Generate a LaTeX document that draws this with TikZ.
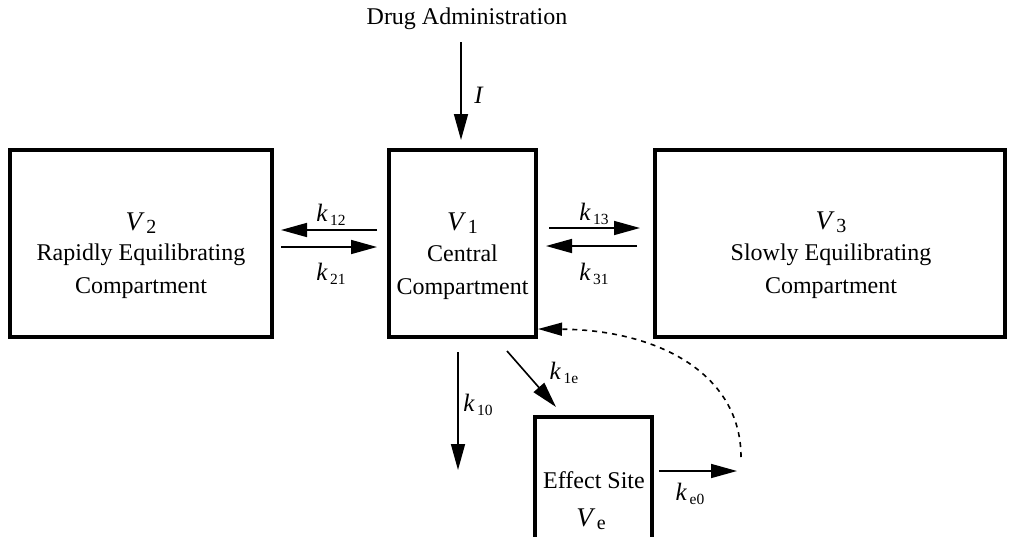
\documentclass[tikz,border=0pt]{standalone}
\usepackage{fontspec}
\setmainfont{Liberation Serif}
\usetikzlibrary{arrows.meta,calc}

% rate constant k with an upright subscript
\newcommand{\rate}[1]{\textit{k}\kern2.5pt\raisebox{-3.5pt}{\fontsize{15.5}{15.5}\selectfont #1}}
% compartment volume V with a subscript
\newcommand{\vol}[1]{{\fontsize{27}{27}\selectfont\textit{V}}\kern1.5pt\raisebox{-3pt}{\fontsize{20}{20}\selectfont #1}}

\begin{document}
\begin{tikzpicture}[x=1pt,y=-1pt,
  comp/.style={draw,line width=4pt,rectangle,outer sep=0pt,inner sep=0pt},
  txt/.style={font=\fontsize{24}{33.5}\selectfont,align=center,inner sep=0pt},
  lbl/.style={font=\fontsize{25}{25}\selectfont,inner sep=0pt},
  arr/.style={line width=1.6pt,-{Triangle[length=26pt,width=14pt]}},
  feedback/.style={line width=1.6pt,dash pattern=on 5pt off 5pt,-{Triangle[length=24pt,width=13pt]}}]
\useasboundingbox (0,0) rectangle (1010,536);
\clip (0,0) rectangle (1010,536);

% compartments
\node[comp,minimum width=262pt,minimum height=187pt] (v2) at (141,243.5) {};
\node[comp,minimum width=147pt,minimum height=187pt] (v1) at (462.5,243.5) {};
\node[comp,minimum width=350pt,minimum height=187pt] (v3) at (830,243.5) {};
\node[comp,minimum width=117pt,minimum height=183pt] (ve) at (593.5,508.5) {};

% compartment texts
\node[txt] (v2name) at (141,223) {\vol{2}};
\node[txt] (v2desc) at (141,271) {Rapidly Equilibrating\\Compartment};
\node[txt] (v1name) at (462.5,223) {\vol{1}};
\node[txt] (v1desc) at (462.5,272) {Central\\Compartment};
\node[txt] (v3name) at (831,222) {\vol{3}};
\node[txt] (v3desc) at (831,271) {Slowly Equilibrating\\Compartment};
\node[txt] (vedesc) at (594,480) {Effect Site};
\node[txt] (vename) at (591,519) {\vol{e}};

% dosing
\node[txt] (drug) at (467,19) {Drug Administration};
\draw[arr] ([xshift=-1.5pt,yshift=108pt]v1.north) -- ([xshift=-1.5pt,yshift=10pt]v1.north);
\node[lbl] (lI) at (479,95) {\textit{I}};

% exchange with the peripheral compartments
\draw[arr] ([xshift=-12pt,yshift=13.5pt]v1.west) -- ([xshift=9pt,yshift=13.5pt]v2.east);
\draw[arr] ([xshift=9pt,yshift=-3.5pt]v2.east) -- ([xshift=-12pt,yshift=-3.5pt]v1.west);
\draw[arr] ([xshift=13pt,yshift=15.5pt]v1.east) -- ([xshift=-15pt,yshift=15.5pt]v3.west);
\draw[arr] ([xshift=-18pt,yshift=-2.5pt]v3.west) -- ([xshift=10pt,yshift=-2.5pt]v1.east);
\node[lbl] (l12) at (331,215) {\rate{12}};
\node[lbl] (l21) at (331,274) {\rate{21}};
\node[lbl] (l13) at (594,214) {\rate{13}};
\node[lbl] (l31) at (594,274) {\rate{31}};

% elimination and effect site
\coordinate (out10) at (458,470);
\draw[arr] ([xshift=-4.5pt,yshift=-15pt]v1.south) -- (out10);
\node[lbl] (l10) at (478,405) {\rate{10}};
\draw[arr] ([xshift=44.5pt,yshift=-14pt]v1.south) -- ([xshift=-37.5pt,yshift=10pt]ve.north);
\node[lbl] (l1e) at (564,373) {\rate{1e}};
\coordinate (oute0) at (737,471);
\draw[arr] ([xshift=7pt,yshift=37.5pt]ve.east) -- (oute0);
\node[lbl] (le0) at (690,494) {\rate{e0}};

% feedback from the effect site
\coordinate (fb) at (741,457);
\draw[feedback] (fb) .. controls (741,375) and (660,330) .. ([xshift=2pt,yshift=-85.5pt]v1.east);
\end{tikzpicture}
\end{document}
